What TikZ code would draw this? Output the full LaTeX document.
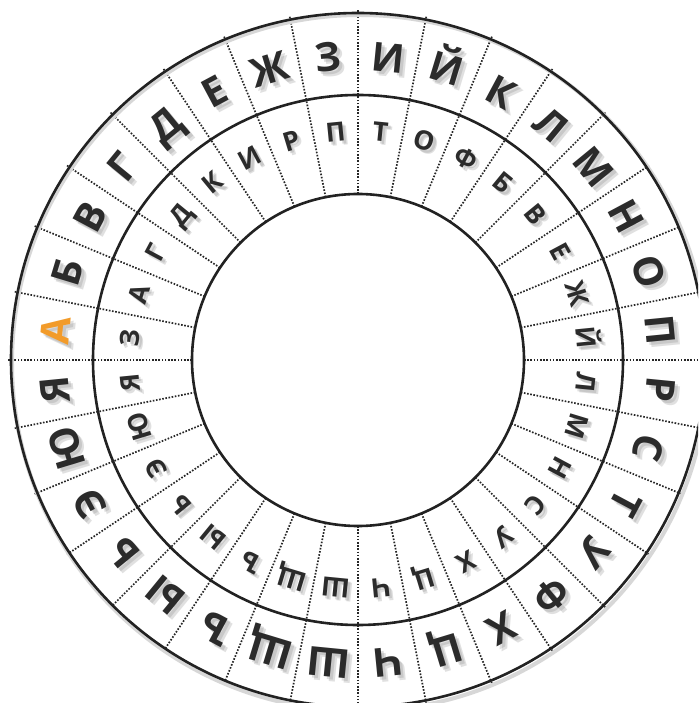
\documentclass[tikz,border=0pt]{standalone}
\usepackage{fontspec}
\setmainfont{Open Sans}
\usepackage{xcolor}
\usepackage{tikz}
\usetikzlibrary{calc}
\definecolor{ink}{HTML}{2B2B2B}
\definecolor{accent}{HTML}{F29B2A}
\definecolor{rimline}{HTML}{222222}

\begin{document}
\begin{tikzpicture}[
    x=1pt, y=1pt,
    rim/.style={draw=rimline, line width=2.6pt},
    divider/.style={draw=black!85, line width=1.7pt, dash pattern=on 1.6pt off 1.6pt},
    bigletter/.style={font=\fontsize{40}{40}\selectfont\bfseries, text=ink, inner sep=0pt, text height=28.5pt, text depth=0pt},
    smallletter/.style={font=\fontsize{26.5}{26.5}\selectfont\bfseries, text=ink, inner sep=0pt, text height=19pt, text depth=0pt},
    shade/.style={text=black!55, opacity=0.22}
]
    % Page frame, the wheel is cut off at the right and bottom
    \fill[white] (-358,-343) rectangle (340,360);
    \useasboundingbox (-358,-343) rectangle (340,360);
    \clip (-358,-343) rectangle (340,360);

    % Cell dividers, 32 cells of 11.25 degrees
    \foreach \k in {0,...,31}
        \draw[divider] (\k*11.25:166) -- (\k*11.25:350);

    % Rims
    \draw[rimline!18, line width=4pt] (2,-3) circle [radius=348];
    \draw[rim] (0,0) circle [radius=347];
    \draw[rim] (0,0) circle [radius=265];
    \draw[rim] (0,0) circle [radius=166];

    % Outer ring: plain alphabet, the first letter marked
    \node[bigletter, shade, rotate=84.375] at ($(174.375:304)+(3,-3)$) {А};
    \node[bigletter, shade, rotate=84.375] at ($(174.375:304)+(5,-5)$) {А};
    \node[bigletter, text=accent, rotate=84.375] (o0) at (174.375:304) {А};
    \foreach \ch [count=\i from 1] in {Б,В,Г,Д,Е,Ж,З,И,Й,К,Л,М,Н,О,П,Р,С,Т,У,Ф,Х,Ц,Ч,Ш,Щ,Ъ,Ы,Ь,Э,Ю,Я} {
        \pgfmathsetmacro{\ang}{174.375-11.25*\i}
        \node[bigletter, shade, rotate=\ang-90] at ($(\ang:304)+(3,-3)$) {\ch};
        \node[bigletter, shade, rotate=\ang-90] at ($(\ang:304)+(5,-5)$) {\ch};
        \node[bigletter, rotate=\ang-90] (o\i) at (\ang:304) {\ch};
    }

    % Inner ring: keyed alphabet
    \foreach \ch [count=\i from 0] in {З,А,Г,Д,К,И,Р,П,Т,О,Ф,Б,В,Е,Ж,Й,Л,М,Н,С,У,Х,Ц,Ч,Ш,Щ,Ъ,Ы,Ь,Э,Ю,Я} {
        \pgfmathsetmacro{\ang}{174.375-11.25*\i}
        \node[smallletter, shade, rotate=\ang-90] at ($(\ang:229)+(2.5,-2.5)$) {\ch};
        \node[smallletter, shade, rotate=\ang-90] at ($(\ang:229)+(4,-4)$) {\ch};
        \node[smallletter, rotate=\ang-90] (n\i) at (\ang:229) {\ch};
    }
\end{tikzpicture}
\end{document}
